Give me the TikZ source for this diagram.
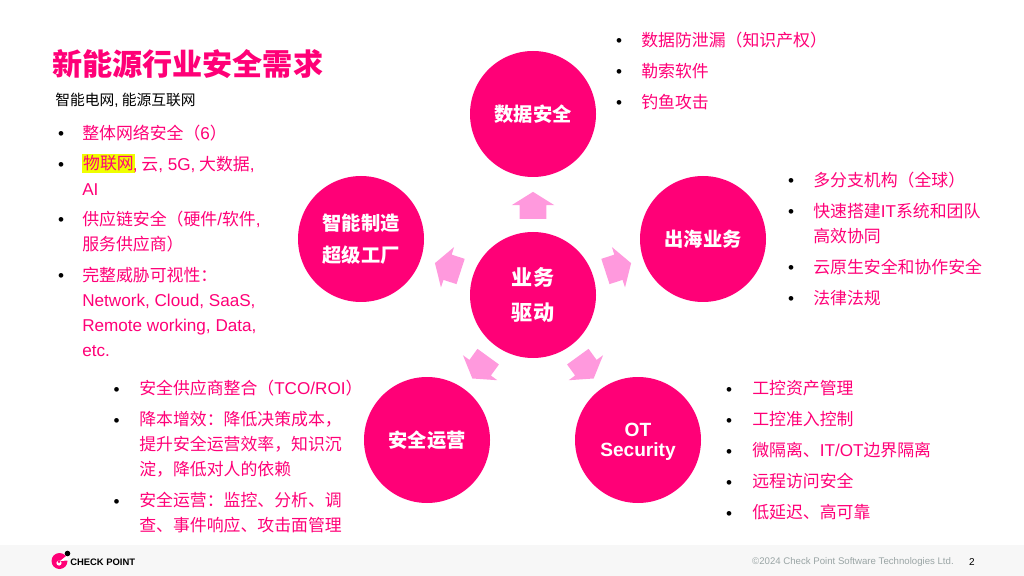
\documentclass[tikz,border=0pt]{standalone}
\usepackage{fontspec}
\usepackage{xcolor}
\setmainfont{Noto Sans CJK SC}
\newfontfamily\en[Scale=1.015]{Liberation Sans}
\usetikzlibrary{shapes.arrows}
\definecolor{cpink}{HTML}{FF0077}
\definecolor{clight}{HTML}{FF99DD}
\definecolor{cfoot}{HTML}{F7F7F7}
\definecolor{cgrey}{HTML}{9AA5A5}
\definecolor{cmark}{HTML}{EFFF00}
\newcommand{\itemrow}[5][22]{%
  \node[itemdot] (#2d) at (#3,#4+1) {\en •};
  \node[itemtext] (#2) at (#3+#1,#4-17) {\rule{0pt}{12pt}#5};
}
\tikzset{
  hubcircle/.style={circle, fill=cpink, minimum size=126*0.025cm, inner sep=0pt,
    text=white, align=center, font=\fontsize{13.7}{22.5}\selectfont\bfseries},
  blockarrow/.style={single arrow, fill=clight, minimum height=27*0.025cm,
    minimum width=42*0.025cm, single arrow head extend=8*0.025cm,
    single arrow tip angle=116, inner xsep=0pt, inner ysep=13*0.025cm, anchor=center},
  itemtext/.style={anchor=north west, inner sep=0pt, align=left, text=cpink,
    font=\fontsize{12}{17.8}\selectfont},
  itemdot/.style={anchor=base, inner sep=0pt, font=\fontsize{12}{12}\selectfont},
}

\begin{document}
\begin{tikzpicture}[x=0.025cm, y=-0.025cm]
  \useasboundingbox (0,0) rectangle (1024,576);

  % ============ Footer ============
  \fill[cfoot] (0,545) rectangle (1024,576);
  \fill[cpink] (59.5,561) circle (8);
  \fill[white] (60,561) -- (67.5,555) -- (68,560.5) -- cycle;
  \fill[white] (59,563) circle (2.6);
  \fill[cpink] (59,561.5) circle (1.5);
  \fill[black] (67.5,553.5) circle (2.8);
  \node[anchor=west, inner sep=0pt, font=\en\fontsize{6.6}{8}\selectfont\bfseries] (logo) at (70,562.5) {CHECK POINT};
  \node[anchor=east, inner sep=0pt, text=cgrey, font=\en\fontsize{6.75}{8}\selectfont] (copyright) at (954,562.5) {©2024 Check Point Software Technologies Ltd.};
  \node[anchor=east, inner sep=0pt, font=\en\fontsize{7}{8}\selectfont] (pagenum) at (975,562.5) {2};

  % ============ Title ============
  \node[anchor=base west, inner sep=0pt, text=cpink, font=\fontsize{21.4}{28}\selectfont\bfseries] (title) at (52,76) {新能源行业安全需求};
  \node[anchor=base west, inner sep=0pt, font=\fontsize{10.5}{12}\selectfont] (subtitle) at (55,105.5) {智能电网{\en ,} 能源互联网};

  % ============ Circles ============
  \node[hubcircle, font=\fontsize{15}{24.5}\selectfont\bfseries] (center) at (533,295) {业务\\驱动};
  \node[hubcircle] (data)  at (533,114) {数据安全};
  \node[hubcircle] (sea)   at (703,239) {出海业务};
  \node[hubcircle] (smart) at (361,239) {智能制造\\超级工厂};
  \node[hubcircle] (soc)   at (427,440) {安全运营};
  \node[hubcircle, font=\en\fontsize{13.4}{14.5}\selectfont\bfseries] (ot) at (638,440) {\rule{0pt}{11.8pt}OT\\Security};

  % ============ Block arrows ============
  \node[blockarrow, rotate=90]  (arrdata)  at (533,209.5) {};
  \node[blockarrow, rotate=18]  (arrsea)   at (614.3,268.6) {};
  \node[blockarrow, rotate=162] (arrsmart) at (451.7,268.6) {};
  \node[blockarrow, rotate=234] (arrsoc)   at (482.7,364.2) {};
  \node[blockarrow, rotate=306] (arrot)    at (583.3,364.2) {};

  % ============ Left list ============
  \itemrow[21]{a1}{61}{139}{整体网络安全（{\en 6}）}
  \node[anchor=base west, inner sep=1pt, fill=cmark, text=cpink, font=\fontsize{12}{14}\selectfont] (iot) at (81.5,170) {物联网};
  \itemrow[21]{a2}{61}{170}{\phantom{物联网}{\en ,} 云{\en , 5G,} 大数据{\en ,}\\{\en AI}}
  \itemrow[21]{a3}{61}{225}{供应链安全（硬件{\en /}软件{\en ,}\\服务供应商）}
  \itemrow[21]{a4}{61}{281}{完整威胁可视性：\\{\en Network, Cloud, SaaS,}\\{\en Remote working, Data,}\\{\en etc.}}

  % ============ Top list ============
  \itemrow{b1}{619}{46}{数据防泄漏（知识产权）}
  \itemrow{b2}{619}{77}{勒索软件}
  \itemrow{b3}{619}{108}{钓鱼攻击}

  % ============ Right list ============
  \itemrow{c1}{791}{186}{多分支机构（全球）}
  \itemrow{c2}{791}{217}{快速搭建{\en IT}系统和团队\\高效协同}
  \itemrow{c3}{791}{273}{云原生安全和协作安全}
  \itemrow{c4}{791}{304}{法律法规}

  % ============ Bottom left list ============
  \itemrow[22.5]{d1}{116.5}{394}{安全供应商整合（{\en TCO/ROI}）}
  \itemrow[22.5]{d2}{116.5}{425}{降本增效：降低决策成本，\\提升安全运营效率，知识沉\\淀，降低对人的依赖}
  \itemrow[22.5]{d3}{116.5}{506}{安全运营：监控、分析、调\\查、事件响应、攻击面管理}

  % ============ Bottom right list ============
  \itemrow[23]{e1}{729}{394}{工控资产管理}
  \itemrow[23]{e2}{729}{425}{工控准入控制}
  \itemrow[23]{e3}{729}{456}{微隔离、{\en IT/OT}边界隔离}
  \itemrow[23]{e4}{729}{487}{远程访问安全}
  \itemrow[23]{e5}{729}{518}{低延迟、高可靠}
\end{tikzpicture}
\end{document}
